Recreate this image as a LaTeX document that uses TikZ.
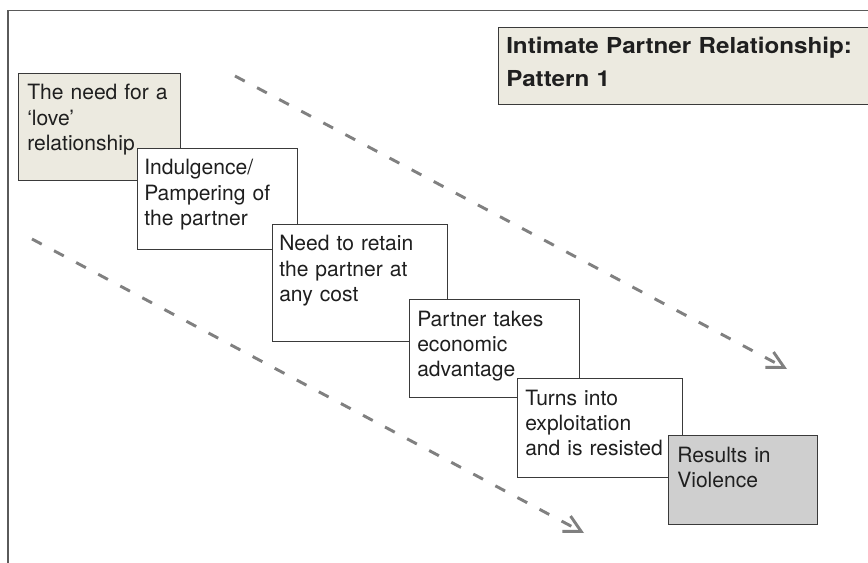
\documentclass[tikz,border=0pt]{standalone}
\usepackage{fontspec}
\setmainfont{TeX Gyre Heros}
\newfontfamily\titlefont[FakeStretch=1.1]{TeX Gyre Heros}
\usetikzlibrary{arrows.meta}
\definecolor{beige}{HTML}{ECEAE0}
\definecolor{vgray}{HTML}{CFCFCF}
\definecolor{dashgray}{HTML}{808080}
\definecolor{edge}{HTML}{3A3A3A}
\definecolor{frame}{HTML}{5A5A5A}
\begin{document}
\begin{tikzpicture}[x=0.75pt,y=-0.75pt,
  boxs/.style={draw=edge, line width=0.8pt, rectangle, inner sep=0pt, anchor=north west},
  txt/.style={anchor=base west, inner sep=0pt, text width=#1, align=left,
    font=\fontsize{15.8}{19.1}\selectfont, text=black!88},
  ttl/.style={anchor=base west, inner sep=0pt, text width=#1, align=left,
    font=\titlefont\bfseries\fontsize{16.5}{24.75}\selectfont, text=black!88},
  flow/.style={draw=dashgray, line width=2.2pt, dash pattern=on 8.25pt off 10.5pt,
    -{Straight Barb[length=12.5pt,width=13pt,line width=2.2pt]}}]
\useasboundingbox (0,0) rectangle (868,563);
\draw[line width=1pt, draw=frame] (8,563) -- (8,10.5) -- (868,10.5);

% title
\node[boxs, fill=beige, minimum width=286.5pt, minimum height=57.75pt] (tb) at (498,27) {};
\node[ttl=280pt] (tt) at ([shift={(8,27)}]tb.north west) {Intimate Partner Relationship:\\Pattern 1};

% arrows
\coordinate (a1s) at (235,76);
\coordinate (a1e) at (787,369);
\coordinate (a2s) at (32,239);
\coordinate (a2e) at (584,533);
\draw[flow] (a1s) -- (a1e);
\draw[flow] (a2s) -- (a2e);

% steps
\node[boxs, fill=beige, minimum width=121.5pt, minimum height=80.25pt] (b1) at (18,73) {};
\node[txt=115pt] (t1) at ([shift={(9,27)}]b1.north west) {The need for a\\‘love’\\relationship};

\node[boxs, fill=white, minimum width=120pt, minimum height=75.75pt] (b2) at (137,148) {};
\node[txt=115pt] (t2) at ([shift={(7,27)}]b2.north west) {Indulgence/\\Pampering of\\the partner};

\node[boxs, fill=white, minimum width=131.25pt, minimum height=87.75pt] (b3) at (272,224) {};
\node[txt=125pt] (t3) at ([shift={(7,27)}]b3.north west) {Need to retain\\the partner at\\any cost};

\node[boxs, fill=white, minimum width=127.5pt, minimum height=73.5pt] (b4) at (409,299) {};
\node[txt=120pt] (t4) at ([shift={(8,27)}]b4.north west) {Partner takes\\economic\\advantage};

\node[boxs, fill=white, minimum width=123.75pt, minimum height=74.25pt] (b5) at (517,378) {};
\node[txt=120pt] (t5) at ([shift={(8,27)}]b5.north west) {Turns into\\exploitation\\and is resisted};

\node[boxs, fill=vgray, minimum width=111.75pt, minimum height=66.75pt] (b6) at (668,435) {};
\node[txt=105pt] (t6) at ([shift={(9,27)}]b6.north west) {Results in\\Violence};
\end{tikzpicture}
\end{document}
